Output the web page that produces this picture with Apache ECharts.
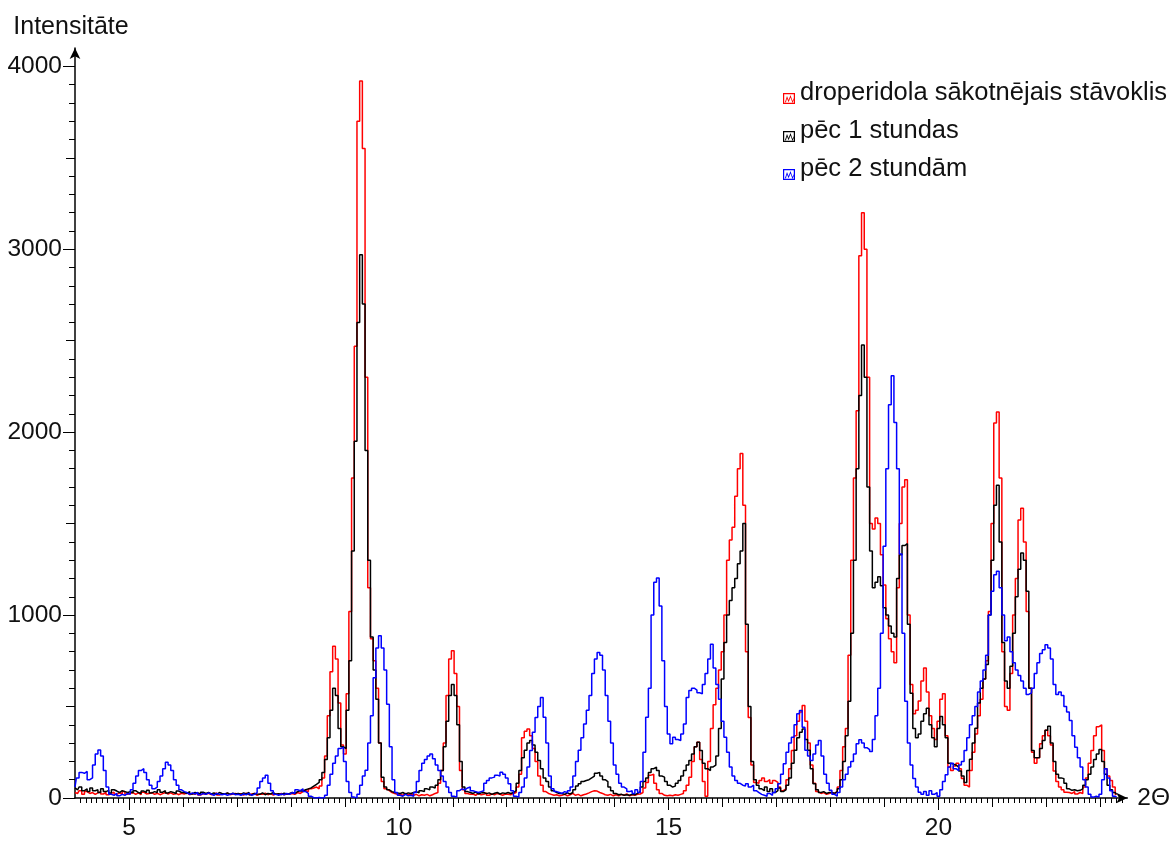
<!DOCTYPE html>
<html>
<head>
<meta charset="utf-8">
<script src="https://cdn.jsdelivr.net/npm/echarts@6/dist/echarts.min.js"></script>
<style>
  html, body { margin: 0; padding: 0; background: #fff; }
  #chart { width: 1173px; height: 841px; }
</style>
</head>
<body>
<div id="chart"></div>
<script>
// Diffraction scans sampled every 0.05° of 2Θ, starting at 4.00°.
// Each row holds one degree (x.00 … x.95); the last row ends at 23.30°.
const angleStart = 4.0;
const angleStep = 0.05;

// droperidola sākotnējais stāvoklis
const red04 = [30,25,40,20,35,25,30,20,28,35,22,30,18,25,32,20,28,22,35,20];
const red05 = [25,30,20,28,18,32,22,25,30,20,26,18,24,30,22,28,20,25,18,26];
const red06 = [22,28,18,25,20,30,16,24,20,26,18,22,28,16,24,20,26,18,22,25];
const red07 = [20,24,16,26,18,22,25,15,22,20,26,18,24,16,22,20,25,18,22,20];
const red08 = [25,20,30,25,35,40,35,50,55,60,50,65,110,230,450,690,830,760,520,290];
const red09 = [240,570,1020,1750,2470,3700,3920,3550,2300,1150,870,750,600,300,90,50,40,30,25,20];
const red10 = [20,15,25,18,22,15,20,12,18,15,20,12,18,25,30,80,150,300,560,760];
const red11 = [805,680,500,150,45,25,20,22,15,25,18,20,28,15,22,18,25,20,15,22];
const red12 = [20,18,25,30,60,130,330,365,377,340,270,200,120,70,35,25,20,15,18,12];
const red13 = [15,20,12,18,25,15,20,12,18,22,28,35,40,38,30,25,18,15,20,12];
const red14 = [18,12,20,15,22,12,18,15,20,22,30,55,85,125,130,80,45,25,15,12];
const red15 = [15,12,18,15,20,25,40,70,114,200,280,305,210,90,10,200,380,510,600,700];
const red16 = [800,1000,1300,1410,1480,1650,1800,1883,1600,800,440,180,85,80,95,110,90,100,80,95];
const red17 = [85,60,40,50,100,160,260,340,420,470,506,420,300,180,80,35,25,30,20,25];
const red18 = [30,25,35,60,150,280,380,780,1300,1750,2117,2964,3200,3000,2300,1500,1470,1530,1500,1330];
const red19 = [1164,980,870,800,740,1150,1500,1700,1740,1000,620,460,480,530,640,710,580,450,380,320];
const red20 = [420,540,570,340,170,150,175,190,160,106,70,60,150,250,350,450,540,650,750,1020];
const red21 = [1500,2050,2110,1750,800,500,480,680,1000,1200,1520,1584,1400,1020,600,250,190,220,296,340];
const red22 = [370,340,290,148,90,60,45,32,30,25,35,22,30,25,60,110,190,260,340,390];
const red23 = [400,260,160,120,95,60,20];

// pēc 1 stundas
const black04 = [55,45,60,40,50,35,55,40,45,30,50,35,42,28,45,38,30,40,35,30];
const black05 = [35,28,40,30,25,38,30,42,28,35,30,45,32,40,28,35,30,25,38,30];
const black06 = [30,25,35,22,30,28,20,32,25,30,22,28,20,30,25,22,28,20,26,22];
const black07 = [25,20,28,22,30,18,25,22,20,28,18,25,22,30,20,24,18,26,22,25];
const black08 = [30,25,35,40,38,45,50,55,65,75,85,100,140,210,330,480,600,560,380,280];
const black09 = [270,480,750,1350,1950,2600,2970,2700,1900,1300,880,700,540,300,114,60,45,35,30,28];
const black10 = [25,30,22,28,25,30,35,28,40,35,50,45,60,55,70,100,150,280,420,560];
const black11 = [620,560,400,200,60,35,30,25,32,22,28,30,24,28,20,26,30,22,28,25];
const black12 = [30,25,30,40,80,150,220,261,300,315,290,250,205,160,110,90,60,40,30,25];
const black13 = [25,20,28,22,30,45,65,78,90,96,100,110,120,135,140,120,100,90,60,40];
const black14 = [25,18,20,15,18,15,20,18,25,35,60,90,110,140,160,169,150,120,114,90];
const black15 = [70,60,65,80,96,120,150,180,205,240,280,305,260,190,160,150,170,180,230,380];
const black16 = [650,850,1000,1080,1150,1200,1280,1350,1500,950,500,200,100,70,50,40,60,35,50,30];
const black17 = [40,55,35,45,70,110,190,261,330,360,377,320,261,160,78,45,30,35,25,30];
const black18 = [30,25,35,50,100,200,340,529,900,1300,1800,2200,2477,2300,1700,1350,1150,1180,1210,1160];
const black19 = [1040,1000,940,900,880,1200,1330,1380,1390,950,572,380,330,350,420,460,490,400,330,280];
const black20 = [380,445,400,330,190,185,180,170,148,120,85,150,212,300,381,520,600,650,730,1000];
const black21 = [1300,1600,1710,1400,850,640,600,720,900,1100,1250,1340,1300,1130,600,260,220,222,270,314];
const black22 = [370,392,300,200,130,110,106,80,50,42,45,40,42,50,70,100,130,169,210,240];
const black23 = [265,200,130,70,45,30,20];

// pēc 2 stundām
const blue04 = [60,110,140,135,145,100,110,180,240,263,230,150,60,20,15,25,12,20,15,25];
const blue05 = [20,45,80,120,150,160,140,100,70,50,60,90,120,160,196,180,150,100,70,45];
const blue06 = [35,30,20,28,22,30,18,25,20,28,22,15,25,20,18,22,15,20,25,18];
const blue07 = [20,15,22,18,25,15,20,30,55,90,110,125,80,40,20,15,22,18,25,20];
const blue08 = [30,25,45,40,50,35,25,10,2,0,3,0,2,15,70,130,190,230,270,278];
const blue09 = [200,90,30,5,0,20,70,120,152,300,450,658,820,887,820,700,512,280,100,30];
const blue10 = [15,10,20,12,15,10,30,90,150,190,210,230,241,215,180,150,120,90,60,30];
const blue11 = [10,5,40,50,45,55,60,40,35,30,35,40,80,96,110,114,125,120,141,130];
const blue12 = [110,78,40,10,5,30,60,110,169,260,360,440,500,550,441,300,120,50,35,30];
const blue13 = [25,35,28,40,60,120,200,261,330,405,480,560,680,760,795,780,700,560,420,300];
const blue14 = [180,130,80,60,50,35,40,25,45,30,90,250,441,600,1000,1180,1203,1050,750,500];
const blue15 = [350,296,332,320,314,350,405,550,587,600,590,575,570,620,680,760,840,710,620,540];
const blue16 = [420,332,250,169,120,96,80,70,65,78,60,70,40,30,20,15,10,25,15,30];
const blue17 = [50,78,130,187,250,300,332,400,460,479,387,261,230,205,240,290,314,230,130,80];
const blue18 = [42,20,10,30,60,100,130,169,200,240,296,318,300,275,265,254,320,450,600,900];
const blue19 = [1376,1800,2150,2308,2053,1800,1334,900,529,300,180,106,60,32,20,35,15,40,20,30];
const blue20 = [10,45,90,127,170,190,160,150,180,200,260,330,400,450,500,580,640,700,780,1000];
const blue21 = [1130,1220,1240,1150,1000,860,880,800,740,700,670,640,600,566,575,600,680,740,790,810];
const blue22 = [838,820,760,620,566,580,560,500,470,424,340,278,220,169,100,60,20,5,10,5];
const blue23 = [20,100,160,110,40,10,5];

const seriesNames = ['droperidola sākotnējais stāvoklis', 'pēc 1 stundas', 'pēc 2 stundām'];
const seriesColors = ['#ff0000', '#000000', '#0000ff'];

// Axis ranges and labelled ticks
const xRange = [4, 23.5];
const yRange = [0, 4100];
const xTickLabels = [5, 10, 15, 20];
const yTickLabels = [0, 1000, 2000, 3000, 4000];

const redRows = [red04, red05, red06, red07, red08, red09, red10, red11, red12, red13, red14, red15, red16, red17, red18, red19, red20, red21, red22, red23];
const blackRows = [black04, black05, black06, black07, black08, black09, black10, black11, black12, black13, black14, black15, black16, black17, black18, black19, black20, black21, black22, black23];
const blueRows = [blue04, blue05, blue06, blue07, blue08, blue09, blue10, blue11, blue12, blue13, blue14, blue15, blue16, blue17, blue18, blue19, blue20, blue21, blue22, blue23];

function toPairs(rows) {
  const values = [].concat(...rows);
  return values.map((v, i) => [+(angleStart + i * angleStep).toFixed(2), v]);
}

// Tick positions for the layered axes (long / medium / short marks)
function stepValues(from, to, step, skip) {
  const out = [];
  for (let v = from; v <= to + 1e-9; v += step) {
    const r = +v.toFixed(2);
    if (!skip || !skip(r)) out.push(r);
  }
  return out;
}
const isInt = v => Math.abs(v - Math.round(v)) < 1e-6;
const xTicksFive = stepValues(5, 20, 5);
const xTicksUnit = stepValues(5, 23, 1, v => v % 5 === 0);
const xTicksTenth = stepValues(4.1, 23.4, 0.1, isInt);
const yTicksThousand = stepValues(0, 4000, 1000);
const yTicksHalf = stepValues(500, 3500, 1000);
const yTicksHundred = stepValues(100, 4000, 100, v => v % 500 === 0);

const fontFamily = '"Liberation Sans", Arial, sans-serif';
// Framed trace glyph, sitting low in its box so it lines up with the text baseline
const legendIcon = 'path://M0,0L0.05,0L0,0.05Z M0,11H12V22H0Z M1.2,12.2V20.8H10.8V12.2Z M2,20L4,14L5.6,18L7.5,13L9.5,19L10.6,16L10.6,18.2L9.5,21L7.5,15.6L5.6,20.2L4,16.4L2.9,20.6Z';

function tickAxis(kind, values, length) {
  return {
    type: 'value',
    min: kind === 'x' ? xRange[0] : yRange[0],
    max: kind === 'x' ? xRange[1] : yRange[1],
    position: kind === 'x' ? 'bottom' : 'left',
    axisLine: { show: false },
    axisLabel: { show: false },
    splitLine: { show: false },
    axisTick: { show: true, customValues: values, length: length, lineStyle: { color: '#000', width: 1 } },
    silent: true
  };
}

const chart = echarts.init(document.getElementById('chart'), null, { renderer: 'canvas' });

chart.setOption({
  animation: false,
  backgroundColor: '#ffffff',
  grid: { left: 75, right: 45, top: 48, bottom: 40, containLabel: false },
  legend: {
    orient: 'vertical',
    left: 783,
    top: 80,
    padding: 0,
    itemWidth: 12,
    itemHeight: 22,
    itemGap: 12,
    icon: legendIcon,
    textStyle: { fontSize: 25.5, color: '#111', fontFamily: fontFamily },
    data: seriesNames
  },
  xAxis: [
    {
      type: 'value',
      min: xRange[0],
      max: xRange[1],
      position: 'bottom',
      name: '2Θ',
      nameLocation: 'end',
      nameGap: 10,
      nameTextStyle: { fontSize: 24.5, color: '#111', fontFamily: fontFamily },
      axisLine: { show: true, symbol: ['none', 'arrow'], symbolSize: [8, 11], lineStyle: { color: '#000', width: 1.5 } },
      axisTick: { show: true, customValues: xTicksFive, length: 12, lineStyle: { color: '#000', width: 1 } },
      axisLabel: { show: true, customValues: xTickLabels, margin: 18, fontSize: 24.5, color: '#111', fontFamily: fontFamily, formatter: v => String(v) },
      splitLine: { show: false }
    },
    tickAxis('x', xTicksUnit, 9),
    tickAxis('x', xTicksTenth, 5)
  ],
  yAxis: [
    {
      type: 'value',
      min: yRange[0],
      max: yRange[1],
      position: 'left',
      name: 'Intensitāte',
      nameLocation: 'end',
      nameGap: 8,
      nameTextStyle: { fontSize: 25, color: '#111', fontFamily: fontFamily, align: 'center', padding: [0, 8, 0, 0] },
      axisLine: { show: true, symbol: ['none', 'arrow'], symbolSize: [8, 11], lineStyle: { color: '#000', width: 1.5 } },
      axisTick: { show: true, customValues: yTicksThousand, length: 12, lineStyle: { color: '#000', width: 1 } },
      axisLabel: { show: true, customValues: yTickLabels, margin: 13, fontSize: 24.5, color: '#111', fontFamily: fontFamily, formatter: v => String(v) },
      splitLine: { show: false }
    },
    tickAxis('y', yTicksHalf, 9),
    tickAxis('y', yTicksHundred, 6)
  ],
  series: [
    { name: seriesNames[0], color: seriesColors[0], data: toPairs(redRows) },
    { name: seriesNames[1], color: seriesColors[1], data: toPairs(blackRows) },
    { name: seriesNames[2], color: seriesColors[2], data: toPairs(blueRows) }
  ].map(s => ({
    type: 'line',
    name: s.name,
    data: s.data,
    xAxisIndex: 0,
    yAxisIndex: 0,
    step: 'middle',
    symbol: 'none',
    showSymbol: false,
    itemStyle: { color: s.color },
    lineStyle: { color: s.color, width: 1.5 },
    emphasis: { disabled: true }
  }))
});
</script>
</body>
</html>
